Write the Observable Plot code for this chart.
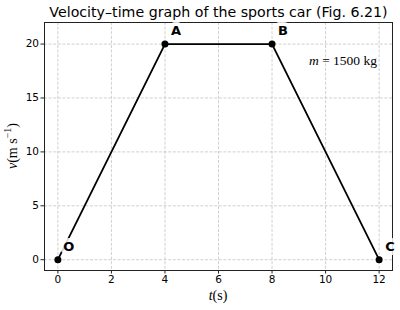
<!DOCTYPE html>
<html><head><meta charset="utf-8">
<script src="https://cdn.jsdelivr.net/npm/d3@7"></script>
<script src="https://cdn.jsdelivr.net/npm/@observablehq/plot@0.6"></script>
<style>body{margin:0;background:#fff}</style>
</head><body><div id="chart"></div>
<script>
const labels = ["O", "A", "B", "C"];
const times = [0, 4, 8, 12];
const velocities = [0, 20, 20, 0];
const xTicks = [0, 2, 4, 6, 8, 10, 12];
const yTicks = [0, 5, 10, 15, 20];
const title = "Velocity–time graph of the sports car (Fig. 6.21)";
const massParts = [["m", "italic"], [" = 1500 kg", "normal"]];
const xLabelParts = [["t", "italic"], ["(s)", "normal"]];

const data = labels.map((l, i) => ({label: l, t: times[i], v: velocities[i]}));
const gridStyle = {stroke: "#b0b0b0", strokeOpacity: 0.75, strokeDasharray: "3,1.6", strokeWidth: 0.8};

const plot = Plot.plot({
  width: 400, height: 310,
  marginLeft: 44, marginRight: 8, marginTop: 22, marginBottom: 40,
  style: {fontFamily: "DejaVu Sans", fontSize: "10px", color: "#000", background: "#fff"},
  x: {domain: [-0.5, 12.5]},
  y: {domain: [-1, 22]},
  marks: [
    Plot.gridX(xTicks, gridStyle),
    Plot.gridY(yTicks, gridStyle),
    Plot.frame({stroke: "#222", strokeWidth: 1}),
    Plot.axisX(xTicks, {tickSize: 3.5, tickPadding: 2, label: null, fontSize: 10.5, stroke: "#222"}),
    Plot.axisY(yTicks, {tickSize: 3.5, tickPadding: 2, label: null, fontSize: 10.5, stroke: "#222"}),
    Plot.line(data, {x: "t", y: "v", stroke: "#000", strokeWidth: 1.8}),
    Plot.text(data, {x: "t", y: "v", text: "label", dx: 11, dy: -13, fontWeight: "bold", fontSize: 13,
      fill: "#000", stroke: "white", strokeWidth: 8, strokeOpacity: 0.85}),
    Plot.dot(data, {x: "t", y: "v", r: 3.5, fill: "#000"}),
    Plot.text([title], {frameAnchor: "top", dy: -10, lineAnchor: "middle", fontSize: 14.2, fill: "#000"})
  ]
});
document.getElementById("chart").appendChild(plot);

const svg = d3.select(plot);
function addRich(attrs) {
  const t = svg.append("text")
    .attr("font-family", "Liberation Serif, DejaVu Serif, serif")
    .attr("fill", "#000");
  for (const [k, v] of Object.entries(attrs)) t.attr(k, v);
  return t;
}
// mass note
const m = addRich({x: 377, y: 62, "text-anchor": "end", "dominant-baseline": "middle", "font-size": 13.5});
massParts.forEach(([s, st]) => m.append("tspan").attr("font-style", st).text(s));
// x label
const xl = addRich({x: 218, y: 297, "text-anchor": "middle", "dominant-baseline": "middle", "font-size": 14});
xLabelParts.forEach(([s, st]) => xl.append("tspan").attr("font-style", st).text(s));
// y label
const yl = addRich({transform: "translate(14,146) rotate(-90)", "text-anchor": "middle", "dominant-baseline": "middle", "font-size": 14});
yl.append("tspan").attr("font-style", "italic").text("v");
yl.append("tspan").text("(m s");
yl.append("tspan").attr("font-size", 10).attr("dy", -5).text("−1");
yl.append("tspan").attr("dy", 5).text(")");
</script>
</body></html>
